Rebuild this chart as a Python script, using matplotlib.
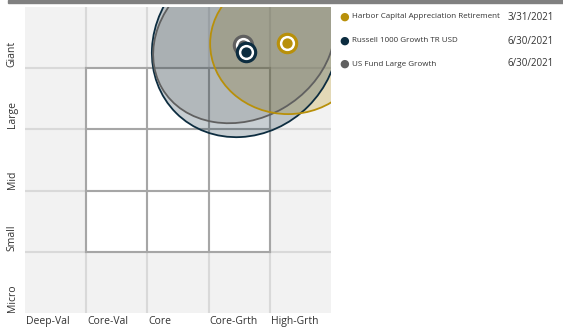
import matplotlib.pyplot as plt
from matplotlib.patches import Ellipse, Rectangle

plt.rcParams['font.family'] = ['Open Sans', 'DejaVu Sans']

style_labels = ["Deep-Val", "Core-Val", "Core", "Core-Grth", "High-Grth"]
size_labels = ["Micro", "Small", "Mid", "Large", "Giant"]

names = ["Harbor Capital Appreciation Retirement", "Russell 1000 Growth TR USD", "US Fund Large Growth"]
dates = ["3/31/2021", "6/30/2021", "6/30/2021"]
colors = ["#b8900a", "#0d2d40", "#606060"]

# centroid of holdings (style score, size score) on a 0-5 grid
dot_x = [4.28, 3.61, 3.56]
dot_y = [4.41, 4.26, 4.38]

# holdings zone ellipses
ell_x = [4.30, 3.60, 3.58]
ell_y = [4.40, 4.40, 4.45]
ell_w = [2.55, 3.20, 3.10]
ell_h = [2.30, 2.90, 2.55]
ell_angle = [0, 45, 30]
fill_alpha = [0.25, 0.23, 0.2]

fig = plt.figure(figsize=(5.63, 3.29), dpi=100)
fig.patches.append(Rectangle((8 / 563, 1 - 2.5 / 329), 1, 2.5 / 329, transform=fig.transFigure,
                             color="#808080", zorder=0))

ax = fig.add_axes([25 / 563, 16 / 329, 306 / 563, 306 / 329])
ax.set_xlim(0, 5)
ax.set_ylim(0, 5)
ax.set_facecolor("#f2f2f2")
ax.add_patch(Rectangle((1, 1), 3, 3, facecolor="white", edgecolor="none", zorder=1))
for v in range(1, 5):
    ax.axvline(v, color="#d9d9d9", lw=1.5, zorder=1)
    ax.axhline(v, color="#d9d9d9", lw=1.5, zorder=1)
for v in range(1, 5):
    ax.plot([v, v], [1, 4], color="#a6a6a6", lw=1.5, zorder=2)
    ax.plot([1, 4], [v, v], color="#a6a6a6", lw=1.5, zorder=2)

# fills first (gold, navy, gray), outlines on top
for i in [0, 1, 2]:
    e = Ellipse((ell_x[i], ell_y[i]), ell_w[i], ell_h[i], angle=ell_angle[i],
                facecolor=colors[i], alpha=fill_alpha[i], edgecolor="none", zorder=3)
    ax.add_patch(e)
for i in [1, 2, 0]:
    e = Ellipse((ell_x[i], ell_y[i]), ell_w[i], ell_h[i], angle=ell_angle[i],
                facecolor="none", edgecolor=colors[i], lw=1.3, zorder=4)
    ax.add_patch(e)

for i in [2, 1, 0]:
    ax.scatter(dot_x[i], dot_y[i], s=240, color=colors[i], zorder=5, linewidths=0)
    ax.scatter(dot_x[i], dot_y[i], s=120, color="white", zorder=5, linewidths=0)
    ax.scatter(dot_x[i], dot_y[i], s=55, color=colors[i], zorder=5, linewidths=0)

ax.set_xticks([])
ax.set_yticks([])
for s in ax.spines.values():
    s.set_visible(False)

for i, lab in enumerate(style_labels):
    ax.text(i + 0.02, -0.05, lab, ha="left", va="top", fontsize=7.5, color="#333333")
for i, lab in enumerate(size_labels):
    ax.text(-0.21, i + 0.02, lab, ha="center", va="bottom", rotation=90, fontsize=7.5, color="#333333")

leg_y = [1 - 17 / 329, 1 - 41 / 329, 1 - 64 / 329]
for i in range(3):
    fig.text(344.5 / 563, leg_y[i], "\u25CF", color=colors[i], fontsize=8, ha="center", va="center")
    fig.text(352 / 563, leg_y[i], names[i], fontsize=5.8, ha="left", va="center", color="#333333")
    fig.text(554 / 563, leg_y[i], dates[i], fontsize=7, ha="right", va="center", color="#333333")

fig.savefig("out.png", dpi=100)
